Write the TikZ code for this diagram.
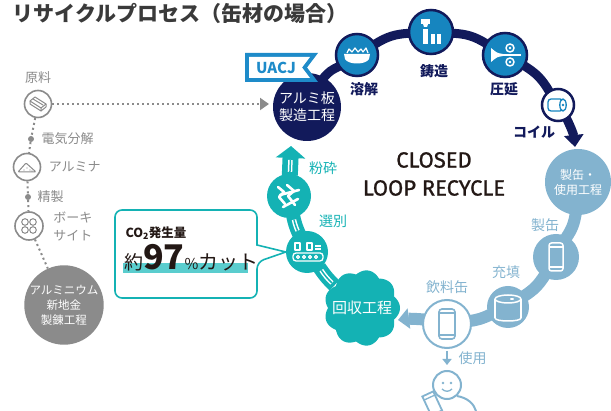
\documentclass[tikz,border=0pt]{standalone}
\usepackage{fontspec}
\setmainfont{Noto Sans CJK JP}
\newfontfamily\loopfont{Fira Sans}[FakeBold=1]
\usetikzlibrary{arrows.meta, positioning}

\definecolor{uacjnavy}{HTML}{121A5B}
\definecolor{uacjblue}{HTML}{1E8BC9}
\definecolor{procblue}{HTML}{1685BF}
\definecolor{canblue}{HTML}{83B3CF}
\definecolor{backteal}{HTML}{14B2B4}
\definecolor{markteal}{HTML}{5ACDCE}
\definecolor{oldgray}{HTML}{8B8B8B}
\definecolor{titlegray}{HTML}{3A3A3A}
\definecolor{inkblack}{HTML}{231815}

\newcommand{\fsz}[2]{\fontsize{#1}{#2}\selectfont}

\begin{document}
\begin{tikzpicture}[x=1pt, y=-1pt,
  proc/.style={circle, draw=uacjnavy, line width=2.5pt, fill=procblue,
     minimum size=#1, inner sep=0pt},
  proc/.default=42pt,
  proclabel/.style={font=\fsz{14}{14}\bfseries, text=uacjnavy},
  usecircle/.style={circle, fill=canblue, minimum size=#1, inner sep=0pt},
  uselabel/.style={font=\fsz{14}{14}, text=canblue},
  backcircle/.style={circle, fill=backteal, minimum size=#1, inner sep=0pt},
  backlabel/.style={font=\fsz{14}{14}, text=backteal},
  oldcircle/.style={circle, draw=oldgray, line width=1.6pt, fill=white,
     minimum size=#1, inner sep=0pt},
  oldcircle/.default=27pt,
  oldlabel/.style={font=\fsz{13}{18}, text=oldgray},
  olddot/.style={circle, fill=oldgray, minimum size=6pt, inner sep=0pt},
  oldlink/.style={oldgray, line width=2pt, dash pattern=on 2pt off 3pt},
  navyband/.style={uacjnavy, line width=9pt, shorten <=-1.5pt, shorten >=-1.5pt},
  canband/.style={canblue, line width=12pt, shorten <=-1.5pt, shorten >=-1.5pt},
  tealband/.style={backteal, line width=14pt, shorten <=-1.5pt, shorten >=-1.5pt,
     postaction={draw=white, line width=4.5pt, -, shorten <=2pt, shorten >=#1},
     postaction={draw=backteal, line width=1.5pt, -, shorten <=2pt, shorten >=#1}},
  tealband/.default=2pt,
  whiteicon/.style={white, line width=1.5pt, line join=round},
]
\useasboundingbox (0,0) rectangle (611,411);

% heading
\node[anchor=west, font=\fsz{21}{21}\bfseries, text=titlegray] (title) at (9,13)
  {リサイクルプロセス（缶材の場合）};

% primary aluminium route
\node[oldcircle] (raw) at (38,104) {};
\node[oldcircle] (alumina) at (27,167) {};
\node[oldcircle=28pt] (bauxite) at (29,226) {};
\node[olddot] (dot1) at (31,139) {};
\node[olddot] (dot2) at (28,197) {};
\node[circle, fill=oldgray, minimum size=78pt, inner sep=0pt, text=white,
  align=center, font=\fsz{11.5}{15}] (alnew) at (64,305) {アルミニウム\\新地金\\製錬工程};
\coordinate (rawtip) at (269,104);

\node[oldlabel, above=3pt of raw] {原料};
\node[oldlabel, right=4pt of dot1] {電気分解};
\node[oldlabel, right=4pt of alumina] {アルミナ};
\node[oldlabel, right=3pt of dot2] {精製};
\node[oldlabel, align=left, right=6pt of bauxite] {ボーキ\\サイト};

\draw[oldlink] (raw) -- (dot1) -- (alumina);
\draw[oldlink] (alumina) -- (dot2) -- (bauxite);
\draw[oldlink] (bauxite) -- (alnew);
\draw[oldlink, -{Triangle[width=12pt, length=9pt]}] (raw) -- (rawtip);

% icons of the primary route
\begin{scope}[shift={(raw)}, oldgray, line width=1pt, line join=round]
  \draw (-8,-3) -- (-3,-7) -- (8,0) -- (3,4) -- cycle;
  \draw (-8,-3) -- (-8,0) -- (3,7) -- (3,4);
  \draw (3,7) -- (8,3) -- (8,0);
  \draw (-5,-5) -- (5,1);
\end{scope}
\begin{scope}[shift={(alumina)}, oldgray, line width=1pt, line join=round]
  \draw[rounded corners=1pt] (-9,5) -- (-1,-4) -- (9,5) -- cycle;
  \fill (0,1) circle (0.7) (3,3) circle (0.7) (-3,3) circle (0.7) (5,4) circle (0.7);
\end{scope}
\begin{scope}[shift={(bauxite)}, oldgray, line width=1pt]
  \draw (-4,-4) circle (3.3) (4,-4) circle (3.3) (-4,4) circle (3.3) (4,4) circle (3.3);
\end{scope}

% plate making and the loop stations
\node[circle, fill=uacjnavy, minimum size=68pt, inner sep=0pt, text=white,
  align=center, font=\fsz{14}{17}] (plate) at (307,107) {アルミ板\\製造工程};
\node[proc] (melt) at (357,55) {};
\node[proc=44pt] (cast) at (431,32) {};
\node[proc=44pt] (roll) at (505,55) {};
\node[circle, draw=uacjnavy, line width=2.5pt, fill=white, minimum size=32pt,
  inner sep=0pt] (coil) at (558,105) {};
\coordinate (coiltip) at (575,147);

\node[usecircle=66pt, text=white, align=center, font=\fsz{12}{15}] (canuse) at (578,182)
  {製缶・\\使用工程};
\node[usecircle=46pt] (canmk) at (556,257) {};
\node[usecircle=42pt] (fillup) at (508,307) {};
\node[circle, draw=canblue, line width=2pt, fill=white, minimum size=48pt,
  inner sep=0pt] (drink) at (447,324) {};
\coordinate (drinktip) at (398,320);

\node[circle, minimum size=74pt, inner sep=0pt] (recov) at (362,308) {};
\fill[backteal, shift={(recov.center)}]
  plot[smooth cycle, domain=0:358, samples=180] (\x:{34+4*abs(cos(4.5*\x))});
\node[text=white, font=\fsz{15}{15}] at (recov) {回収工程};
\node[backcircle=42pt] (sel) at (307,252) {};
\node[backcircle=44pt] (crush) at (289,196) {};
\coordinate (crushtip) at (291,146);

% bands between the stations
\draw[navyband] (plate) to[bend left=14] (melt);
\draw[navyband] (melt) to[bend left=14] (cast);
\draw[navyband] (cast) to[bend left=14] (roll);
\draw[navyband] (roll) to[bend left=14] (coil);
\draw[navyband, shorten >=0pt, -{Triangle[width=19pt, length=12pt]}]
  (coil) to[bend left=10] (coiltip);

\draw[canband] (canuse) to[bend left=12] (canmk);
\draw[canband] (canmk) to[bend left=12] (fillup);
\draw[canband] (fillup) to[bend left=8] (drink);
\draw[canband, shorten >=0pt, -{Triangle[width=20pt, length=11pt]}]
  (drink) to[bend right=6] (drinktip);

\draw[tealband] (recov) to[bend left=6] (sel);
\draw[tealband] (sel) to[bend left=6] (crush);
\draw[tealband=14pt, line width=16pt, shorten >=0pt, -{Triangle[width=29pt, length=12pt]}]
  (crush) -- (crushtip);

% station icons
\begin{scope}[shift={(melt)}, whiteicon]
  \fill[white] (-13,-1) -- (13,-1) -- (12,4) .. controls (9,10) and (-9,10) .. (-12,4) -- cycle;
  \draw[line width=1.2pt] (-10,-2) -- (-8,-6) -- (-5,-3) -- (-2,-7) -- (1,-3) -- (4,-6) -- (6,-3) -- (9,-7) -- (11,-2);
\end{scope}
\begin{scope}[shift={(cast)}]
  \fill[white] (-10,-13) rectangle (-1,-8);
  \fill[white] (-8,-8) -- (-3,-8) -- (-4,-5) -- (-7,-5) -- cycle;
  \fill[white] (-8,-3) rectangle (-3,12);
  \fill[white] (0,2) rectangle (4,12);
  \fill[white] (6,2) rectangle (10,12);
\end{scope}
\begin{scope}[shift={(roll)}, whiteicon]
  \fill[white] (-14,-7) .. controls (-8,-2) .. (-2,-1) -- (-2,1) .. controls (-8,2) .. (-14,7) -- cycle;
  \draw (-2,0) -- (16,0);
  \draw (5,-7) circle (4) (5,7) circle (4);
  \fill[white] (5,-7) circle (1.3) (5,7) circle (1.3);
\end{scope}
\begin{scope}[shift={(coil)}, procblue, line width=1.3pt]
  \draw[rounded corners=3pt] (-10,-6) rectangle (5,6);
  \draw[fill=white] (5,0) ellipse (3.2 and 6);
  \fill (5,0) circle (1.3);
\end{scope}
\begin{scope}[shift={(canmk)}, whiteicon]
  \draw[rounded corners=2.5pt] (-7,-14) rectangle (7,14);
  \draw (-7,-10) -- (7,-10) (-7,10) -- (7,10);
\end{scope}
\begin{scope}[shift={(fillup)}, whiteicon]
  \draw (0,-8) ellipse (13 and 4);
  \draw (-13,-8) -- (-13,11) (13,-8) -- (13,11);
  \draw (-13,11) .. controls (-13,15) and (13,15) .. (13,11);
  \fill[white] (4,-8) ellipse (2 and 1);
\end{scope}
\begin{scope}[shift={(drink)}, canblue, line width=1.6pt]
  \draw[rounded corners=3pt] (-8,-15) rectangle (8,15);
  \draw (-8,-11) -- (8,-11) (-8,11) -- (8,11);
\end{scope}
\begin{scope}[shift={(crush)}, white, line width=2.6pt, line join=round, line cap=round]
  \draw (-11,-9) -- (-5,-4) -- (-10,1) -- (-4,8);
  \draw (-2,-11) -- (5,-5) -- (-1,0) -- (6,9);
  \draw (-9,-1) -- (10,-6);
  \draw (-6,11) -- (9,3);
\end{scope}
\begin{scope}[shift={(sel)}, whiteicon, line width=1.3pt]
  \draw[rounded corners=3pt] (-14,1) rectangle (16,9);
  \foreach \k in {-9,-3,3,9} \draw (\k,5) circle (1.5);
  \draw (-12,-9) rectangle (-7,-2) (0,-9) rectangle (5,-2);
  \draw (8,-6) -- (14,-6) (8,-3) -- (14,-3);
\end{scope}

% station names
\node[proclabel] at (364,89) {溶解};
\node[proclabel] at (434,71) {鋳造};
\node[proclabel] at (504,89) {圧延};
\node[proclabel] at (534,132) {コイル};
\node[uselabel] at (545,225) {製缶};
\node[uselabel] at (506,272) {充填};
\node[uselabel] at (447,287) {飲料缶};
\node[backlabel] at (323,168) {粉砕};
\node[backlabel] at (333,221) {選別};

% company flag
\fill[uacjblue] (245,53) -- (318,53) -- (307,67.5) -- (318,82) -- (245,82) -- cycle;
\fill[white] (249,57) -- (310,57) -- (302,67.5) -- (310,78) -- (249,78) -- cycle;
\node[font=\fsz{15}{15}\bfseries, text=uacjblue] (uacj) at (276,68) {UACJ};

% CO2 callout
\draw[backteal, line width=1.6pt, fill=white, rounded corners=7pt]
  (257,245) -- (257,210) -- (115,210) -- (115,298) -- (257,298) -- (257,262)
  [sharp corners] -- (sel.west) -- cycle;
\fill[markteal] (123,263) rectangle (248,273);
\node[anchor=west, font=\fsz{12.5}{12.5}\bfseries, text=inkblack] (co2) at (122,233)
  {CO\textsubscript{2}発生量};
\node[anchor=base west, inner sep=0pt, text=inkblack] (cut) at (124,270)
  {{\fsz{19}{19}約}{\fsz{34}{34}\bfseries 97}{\fsz{15}{15}\%}{\fsz{20}{20}カット}};

\node[align=center, font=\loopfont\fsz{22}{28}, text=inkblack] (loopname) at (434,174)
  {CLOSED\\LOOP RECYCLE};

% consumer
\node[circle, draw=canblue, line width=2pt, fill=white, minimum size=28pt,
  inner sep=0pt] (face) at (447,385) {};
\draw[canblue, line width=2.5pt, shorten <=2pt, shorten >=5pt,
  -{Triangle[width=9pt, length=6pt]}] (drink) -- (face);
\node[uselabel, anchor=west] at (455,358) {使用};
\fill[canblue] (443,383) circle (1.3) (451,383) circle (1.3);
\draw[canblue, line width=1.3pt] (442,389) .. controls (445,392) and (449,392) .. (452,389);
\draw[canblue, line width=2pt] (457,396) .. controls (468,398) and (474,404) .. (476,411);
\draw[canblue, line width=1.8pt, fill=white, rotate around={25:(432,403)}]
  (426,393) rectangle (438,414);
\draw[canblue, line width=1.3pt, rotate around={25:(432,403)}] (426,397) -- (438,397);
\end{tikzpicture}
\end{document}
